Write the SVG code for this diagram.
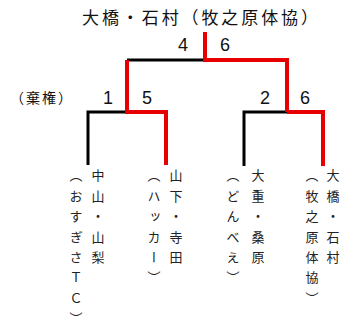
<svg xmlns="http://www.w3.org/2000/svg" width="342" height="325" viewBox="0 0 342 325">
<style>
.t{font-family:"Noto Sans CJK JP","Noto Sans",sans-serif;fill:#111}
.v{font-family:"Noto Sans CJK JP",sans-serif;fill:#222;font-size:13px;writing-mode:vertical-rl}
.n{font-family:"Liberation Sans","Noto Sans",sans-serif;fill:#111;font-size:18px}
.k{fill:none;stroke:#000;stroke-width:3}
.r{fill:none;stroke:#e60000;stroke-width:4}
</style>
<rect width="342" height="325" fill="#fff"/>
<g id="connectors">
<path class="k" d="M127 60H205"/>
<path class="k" d="M88 165V112H127"/>
<path class="k" d="M244 166V112H287"/>
<path class="r" d="M205 32V60H287V112"/>
<path class="r" d="M127 60V112H166V165"/>
<path class="r" d="M287 112H323V166"/>
</g>
<g id="winner"><text class="t" x="82" y="24" font-size="17" textLength="236" lengthAdjust="spacing">大橋・石村（牧之原体協）</text></g>
<g id="scores">
<text class="n" x="178" y="51">4</text>
<text class="n" x="220" y="51">6</text>
<text class="n" x="103" y="104">1</text>
<text class="n" x="142" y="104">5</text>
<text class="n" x="260" y="104">2</text>
<text class="n" x="300" y="104">6</text>
</g>
<g id="forfeit"><text class="t" x="10" y="103" font-size="14" textLength="62" lengthAdjust="spacing">（棄権）</text></g>
<g id="team1">
<text class="v" x="98" y="169 189.4 209.8 230.2 250.6">中山・山梨</text>
<text class="v" x="76" y="169 189.4 209.8 230.2 250.6 271 291.4 311.8">（おすぎさＴＣ）</text>
</g>
<g id="team2">
<text class="v" x="176" y="169 189.4 209.8 230.2 250.6">山下・寺田</text>
<text class="v" x="154" y="169 189.4 209.8 230.2 250.6 271">（ハッカー）</text>
</g>
<g id="team3">
<text class="v" x="258" y="169 189.4 209.8 230.2 250.6">大重・桑原</text>
<text class="v" x="233" y="169 189.4 209.8 230.2 250.6 271">（どんべえ）</text>
</g>
<g id="team4">
<text class="v" x="333" y="169 189.4 209.8 230.2 250.6">大橋・石村</text>
<text class="v" x="312" y="169 189.4 209.8 230.2 250.6 271 291.4">（牧之原体協）</text>
</g>
</svg>
